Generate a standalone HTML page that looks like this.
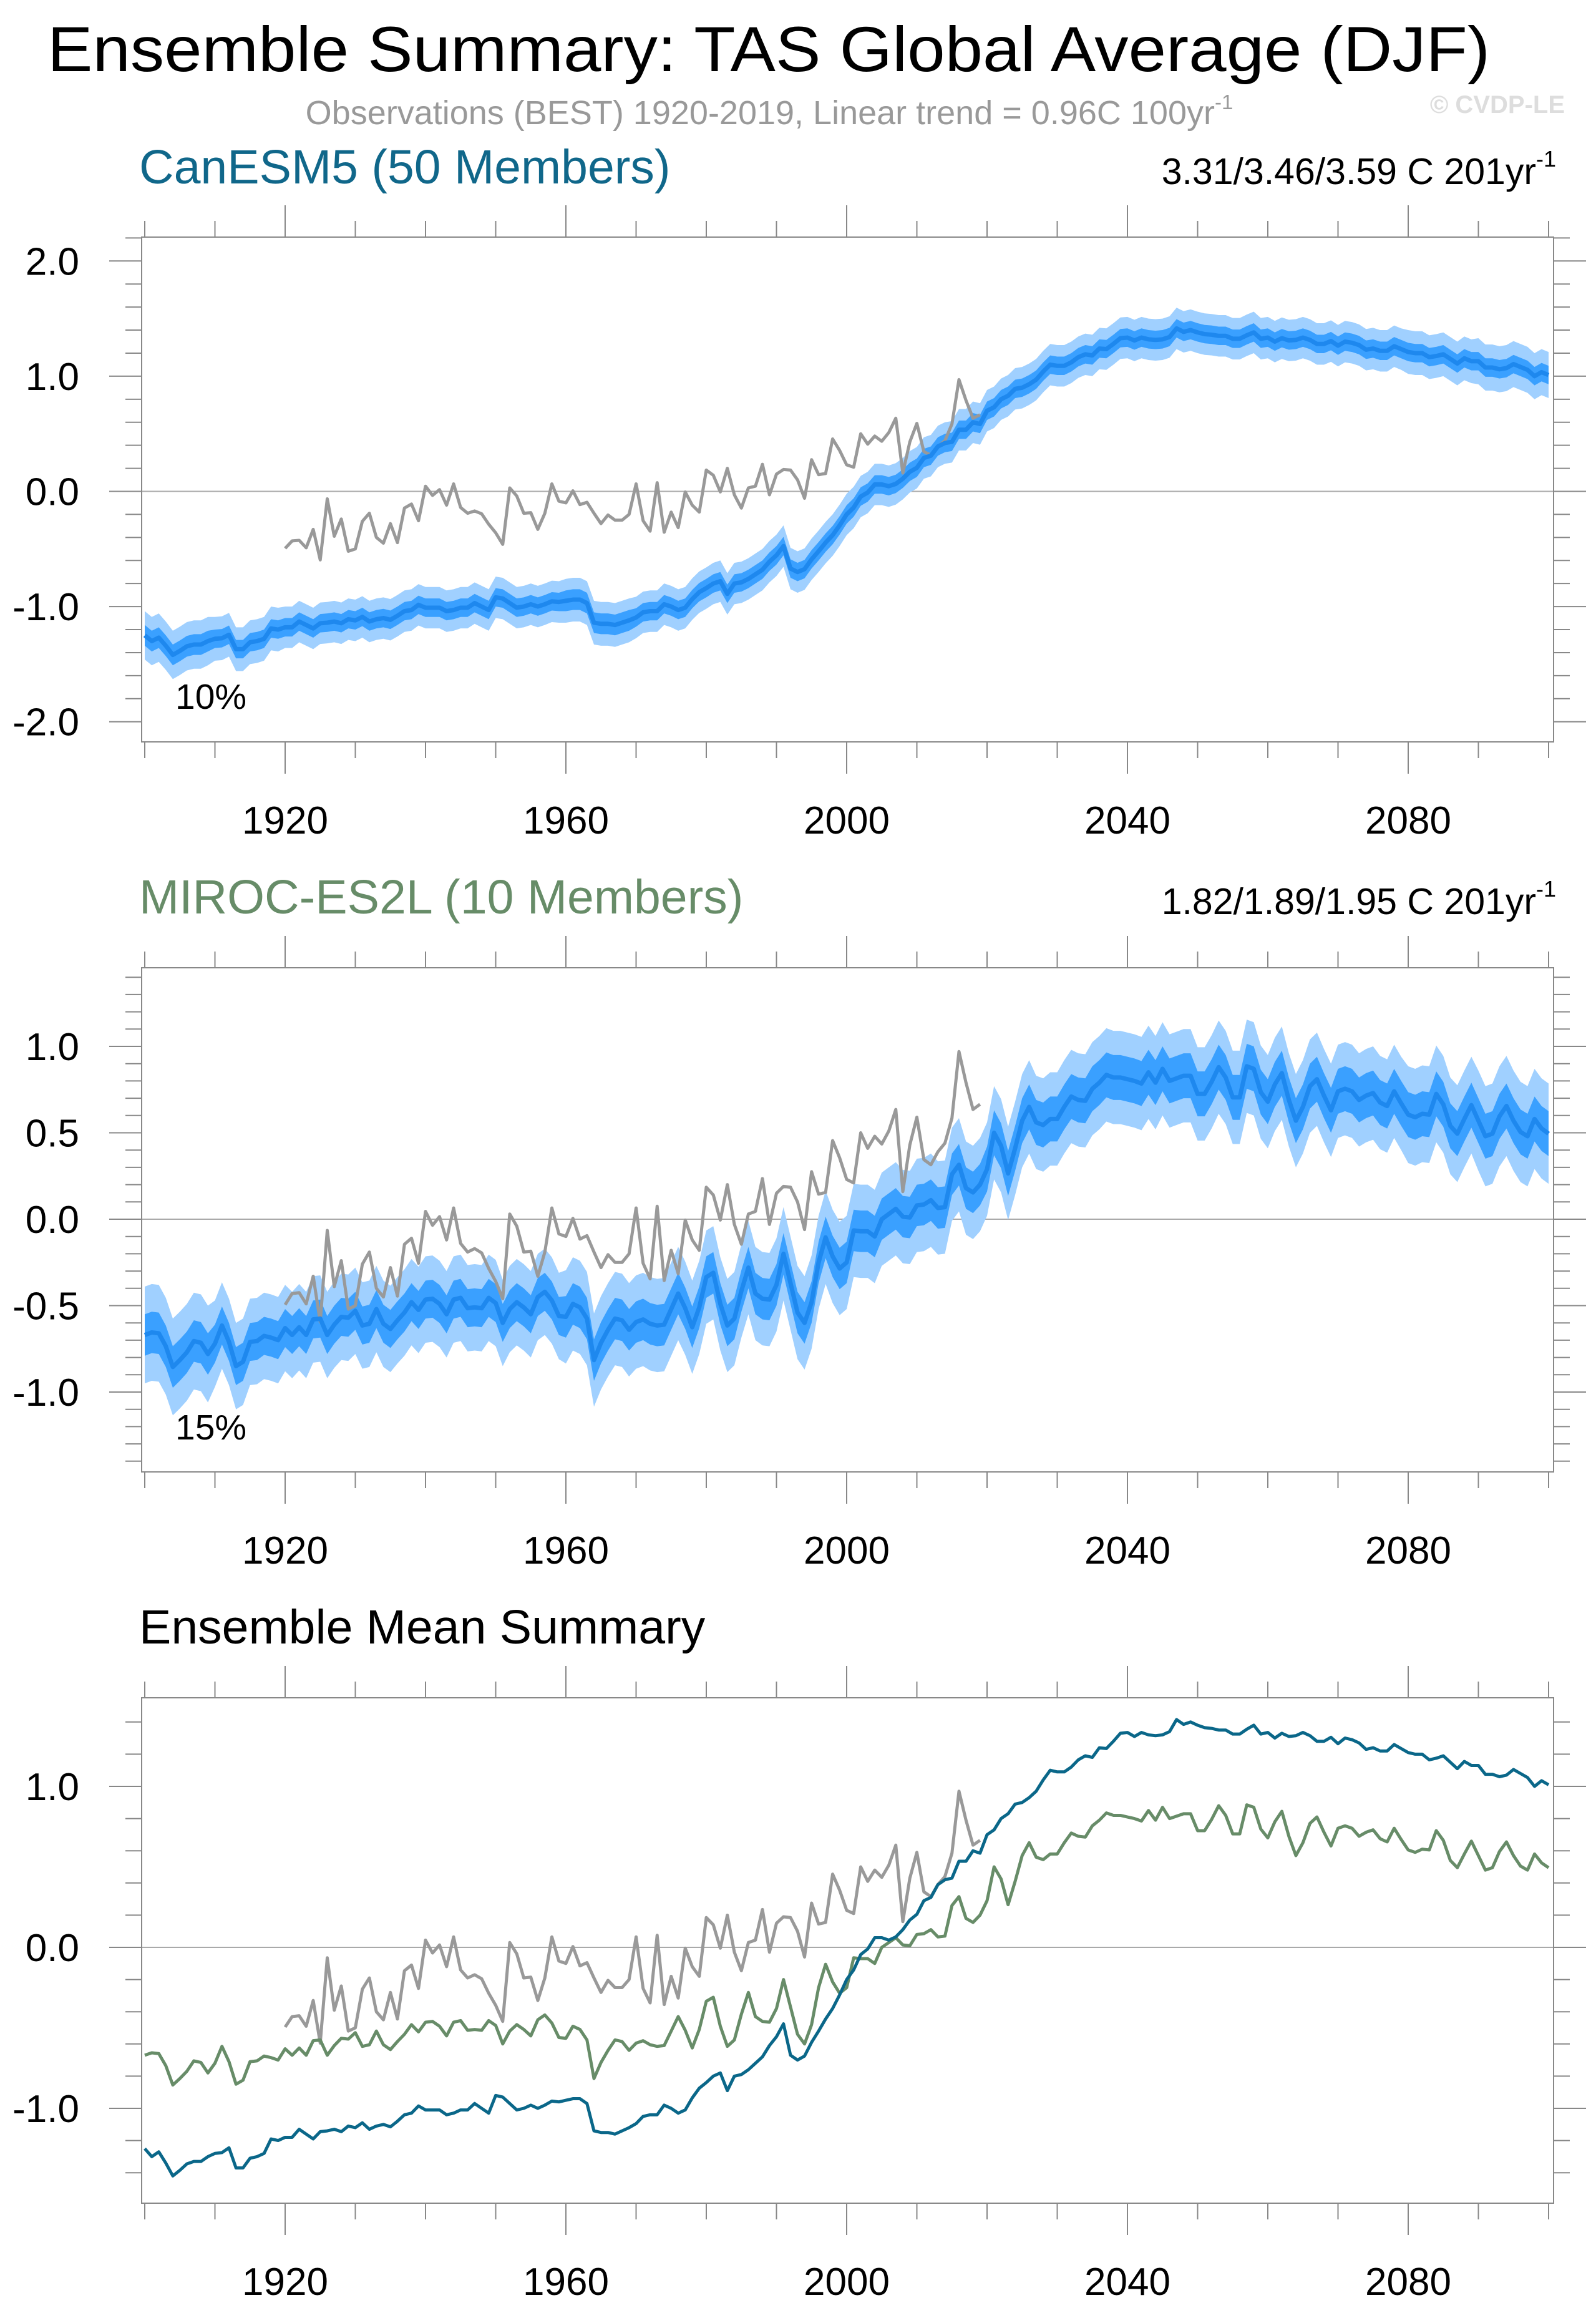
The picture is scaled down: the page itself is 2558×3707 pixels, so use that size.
<!DOCTYPE html>
<html><head><meta charset="utf-8"><style>
html,body{margin:0;padding:0;background:#fff;}
svg{display:block;font-family:"Liberation Sans",Arial,sans-serif;}
</style></head><body>
<svg id="chart" xmlns="http://www.w3.org/2000/svg" width="2558" height="3707" viewBox="0 0 2558 3707">
<rect width="2558" height="3707" fill="#fff"/>
<text x="76" y="114" font-size="102" textLength="2312" lengthAdjust="spacingAndGlyphs" fill="#000">Ensemble Summary: TAS Global Average (DJF)</text>
<text x="1233" y="199" font-size="54" fill="#999" text-anchor="middle">Observations (BEST) 1920-2019, Linear trend = 0.96C 100yr<tspan font-size="33" dy="-24">-1</tspan></text>
<text x="2508" y="181" font-size="40" font-weight="bold" fill="#ddd" text-anchor="end">© CVDP-LE</text>
<text x="223" y="294" font-size="77" fill="#10678a">CanESM5 (50 Members)</text>
<text x="2494" y="295" font-size="59" fill="#000" text-anchor="end">3.31/3.46/3.59 C 201yr<tspan font-size="36" dy="-28">-1</tspan></text>
<text x="223" y="1464" font-size="77" fill="#678c68">MIROC-ES2L (10 Members)</text>
<text x="2494" y="1465" font-size="59" fill="#000" text-anchor="end">1.82/1.89/1.95 C 201yr<tspan font-size="36" dy="-28">-1</tspan></text>
<text x="223" y="2634" font-size="77" fill="#000">Ensemble Mean Summary</text>
<text x="281" y="1136" font-size="57" fill="#000">10%</text>
<text x="281" y="2307" font-size="57" fill="#000">15%</text>
</svg>
<script>
const canMean = [-1.25,-1.30,-1.27,-1.34,-1.42,-1.385,-1.345,-1.33,-1.33,-1.30,
-1.28,-1.275,-1.245,-1.37,-1.37,-1.31,-1.30,-1.28,-1.19,-1.20,
-1.18,-1.18,-1.13,-1.16,-1.19,-1.145,-1.14,-1.13,-1.145,-1.11,
-1.12,-1.09,-1.13,-1.11,-1.10,-1.115,-1.08,-1.04,-1.03,-0.985,
-1.01,-1.01,-1.01,-1.04,-1.03,-1.01,-1.01,-0.97,-1.00,-1.03,
-0.92,-0.93,-0.97,-1.01,-1.00,-0.98,-1.00,-0.98,-0.955,-0.96,
-0.95,-0.94,-0.94,-0.97,-1.14,-1.15,-1.15,-1.16,-1.14,-1.12,
-1.095,-1.05,-1.04,-1.04,-0.98,-1.00,-1.03,-1.01,-0.935,-0.875,
-0.84,-0.80,-0.78,-0.89,-0.80,-0.79,-0.76,-0.72,-0.68,-0.61,
-0.555,-0.475,-0.67,-0.70,-0.675,-0.59,-0.52,-0.445,-0.38,-0.295,
-0.20,-0.14,-0.045,-0.01,0.06,0.06,0.045,0.065,0.11,0.17,
0.205,0.29,0.31,0.39,0.42,0.43,0.535,0.535,0.60,0.585,
0.70,0.73,0.80,0.83,0.89,0.90,0.93,0.97,1.04,1.10,
1.09,1.09,1.12,1.165,1.19,1.18,1.24,1.235,1.28,1.33,
1.335,1.31,1.335,1.32,1.315,1.32,1.34,1.415,1.385,1.40,
1.38,1.365,1.36,1.35,1.35,1.325,1.325,1.355,1.38,1.325,
1.335,1.30,1.33,1.31,1.315,1.335,1.315,1.28,1.28,1.305,
1.265,1.30,1.29,1.27,1.23,1.24,1.22,1.22,1.26,1.235,
1.21,1.20,1.20,1.165,1.175,1.19,1.15,1.11,1.155,1.13,
1.13,1.075,1.075,1.06,1.07,1.105,1.08,1.055,1.00,1.035,
1.01];
const mirMean = [-0.67,-0.655,-0.66,-0.735,-0.855,-0.815,-0.77,-0.705,-0.715,-0.78,
-0.72,-0.615,-0.71,-0.85,-0.825,-0.71,-0.705,-0.675,-0.685,-0.70,
-0.63,-0.67,-0.625,-0.67,-0.58,-0.575,-0.67,-0.61,-0.565,-0.57,
-0.53,-0.615,-0.605,-0.52,-0.605,-0.635,-0.585,-0.54,-0.48,-0.525,
-0.465,-0.46,-0.49,-0.55,-0.465,-0.455,-0.515,-0.51,-0.515,-0.455,
-0.485,-0.60,-0.52,-0.48,-0.51,-0.55,-0.45,-0.42,-0.47,-0.56,
-0.565,-0.49,-0.51,-0.575,-0.815,-0.715,-0.64,-0.575,-0.585,-0.64,
-0.595,-0.58,-0.605,-0.615,-0.61,-0.52,-0.43,-0.515,-0.625,-0.51,
-0.335,-0.31,-0.49,-0.615,-0.575,-0.415,-0.28,-0.43,-0.46,-0.465,
-0.38,-0.20,-0.37,-0.54,-0.60,-0.48,-0.25,-0.105,-0.215,-0.285,
-0.25,-0.065,-0.07,-0.07,-0.10,0.00,0.03,0.06,0.015,0.01,
0.08,0.085,0.11,0.065,0.07,0.26,0.315,0.18,0.155,0.20,
0.29,0.50,0.425,0.265,0.41,0.57,0.65,0.56,0.545,0.58,
0.58,0.65,0.71,0.69,0.685,0.755,0.79,0.835,0.82,0.82,
0.81,0.80,0.785,0.85,0.79,0.87,0.80,0.815,0.83,0.83,
0.725,0.725,0.795,0.88,0.82,0.705,0.705,0.885,0.87,0.735,
0.68,0.78,0.845,0.69,0.57,0.65,0.77,0.81,0.715,0.63,
0.74,0.755,0.74,0.69,0.715,0.73,0.675,0.655,0.74,0.67,
0.605,0.59,0.61,0.605,0.725,0.665,0.54,0.495,0.58,0.66,
0.57,0.48,0.495,0.595,0.655,0.57,0.505,0.48,0.58,0.525,
0.495];
const obs = [-0.495,-0.43,-0.425,-0.49,-0.33,-0.595,-0.065,-0.39,-0.24,-0.52,
-0.50,-0.26,-0.19,-0.40,-0.45,-0.28,-0.445,-0.145,-0.11,-0.255,
0.045,-0.035,0.015,-0.12,0.065,-0.14,-0.19,-0.17,-0.195,-0.285,
-0.36,-0.46,0.03,-0.04,-0.19,-0.185,-0.33,-0.19,0.065,-0.085,
-0.10,0.005,-0.115,-0.095,-0.19,-0.28,-0.205,-0.25,-0.25,-0.20,
0.065,-0.255,-0.345,0.075,-0.355,-0.18,-0.315,-0.005,-0.12,-0.18,
0.185,0.14,-0.005,0.20,-0.03,-0.145,0.03,0.045,0.235,-0.03,
0.15,0.19,0.185,0.10,-0.06,0.275,0.145,0.155,0.455,0.355,
0.23,0.21,0.50,0.41,0.48,0.435,0.51,0.635,0.16,0.43,
0.59,0.345,0.315,0.39,0.44,0.585,0.97,0.79,0.635,0.665];
const canInner = [0.09,0.08,0.08,0.08,0.08,0.08,0.09,0.08,0.08,0.08,0.08,0.08,0.08,0.08,0.08,0.08,0.08,0.08,0.08,0.08,0.08];
const canOuter = [0.21,0.19,0.18,0.18,0.18,0.18,0.19,0.18,0.18,0.18,0.18,0.18,0.18,0.18,0.18,0.18,0.18,0.18,0.19,0.20,0.20];
const mirInner = [0.12,0.11,0.11,0.11,0.11,0.11,0.12,0.12,0.12,0.12,0.12,0.12,0.13,0.13,0.13,0.13,0.13,0.13,0.13,0.13,0.13];
const mirOuter = [0.28,0.25,0.25,0.25,0.25,0.25,0.27,0.27,0.27,0.27,0.27,0.27,0.27,0.27,0.27,0.27,0.27,0.27,0.28,0.29,0.29];
const startYear = 1900, obsStart = 1920;
const xTickLabels = ["1920","1960","2000","2040","2080"];
const p1YLabels = ["2.0","1.0","0.0","-1.0","-2.0"];
const p2YLabels = ["1.0","0.5","0.0","-0.5","-1.0"];
const p3YLabels = ["1.0","0.0","-1.0"];

const svg = document.getElementById('chart');
const NS = 'http://www.w3.org/2000/svg';
function mk(tag, attrs, parent){const e=document.createElementNS(NS,tag);for(const k in attrs)e.setAttribute(k,attrs[k]);(parent||svg).appendChild(e);return e;}
const FL=227, FR=2490;
function xS(year){return 232 + (year-1900)*11.25;}

function drawPanel(p, name){
  const g = mk('g',{});
  
  
  const yS = v => p.zero - v*p.unit;
  for(let yr=1900; yr<=2100; yr+=10){
    const major = (yr-1920)%40===0 && yr>=1920 && yr<=2080;
    const L = major?51:26, x=xS(yr);
    mk('line',{x1:x,x2:x,y1:p.top,y2:p.top-L,stroke:'#888','stroke-width':2},g);
    mk('line',{x1:x,x2:x,y1:p.bot,y2:p.bot+L,stroke:'#888','stroke-width':2},g);
  }
  xTickLabels.forEach(lab=>{
    const t = mk('text',{x:xS(+lab),y:p.bot+147,'font-size':62,'text-anchor':'middle',fill:'#000'},g);
    t.textContent = lab;
    
    
  });
  const vmin=(p.zero-p.bot)/p.unit, vmax=(p.zero-p.top)/p.unit;
  for(let k=Math.ceil(vmin/p.minor-1e-6); k*p.minor<=vmax+1e-6; k++){
    const v=k*p.minor, y=yS(v);
    const major = Math.abs(v/p.major-Math.round(v/p.major))<1e-6;
    const L = major?52:26;
    mk('line',{x1:FL,x2:FL-L,y1:y,y2:y,stroke:'#888','stroke-width':2},g);
    mk('line',{x1:FR,x2:FR+L,y1:y,y2:y,stroke:'#888','stroke-width':2},g);
  }
  p.labels.forEach(lab=>{
    const t = mk('text',{x:127,y:yS(+lab)+22,'font-size':62,'text-anchor':'end',fill:'#000'},g);
    t.textContent = lab;
    
    
  });
  const zl = mk('line',{x1:FL,x2:FR,y1:yS(0),y2:yS(0),stroke:'#aaa','stroke-width':2},g);
  
  
  return {g, yS};
}
function bandPath(mean, spread, yS){
  let up=[], lo=[];
  mean.forEach((v,i)=>{const s=spread[Math.min(20,Math.floor(i/10))];up.push(xS(startYear+i)+','+yS(v+s));lo.push(xS(startYear+i)+','+yS(v-s));});
  return 'M'+up.join('L')+'L'+lo.reverse().join('L')+'Z';
}
function linePath(vals, y0, yS){
  return 'M'+vals.map((v,i)=>xS(y0+i)+','+yS(v)).join('L');
}
function frame(p,g){
  const r = mk('rect',{x:FL,y:p.top,width:FR-FL,height:p.bot-p.top,fill:'none',stroke:'#888','stroke-width':2},g);
  
  
}
function ensemblePanel(p, name, mean, inner, outer){
  const {g,yS} = drawPanel(p, name);
  const o = mk('path',{d:bandPath(mean,outer,yS),fill:'#a0d0ff'},g);
  
  
  const i = mk('path',{d:bandPath(mean,inner,yS),fill:'#3aa0ff'},g);
  
  
  const ob = mk('path',{d:linePath(obs,obsStart,yS),fill:'none',stroke:'#999','stroke-width':5,'stroke-linejoin':'round'},g);
  
  
  const m = mk('path',{d:linePath(mean,startYear,yS),fill:'none',stroke:'#1e88ee','stroke-width':7,'stroke-linejoin':'round'},g);
  
  
  frame(p,g);
}
const P1={top:380,bot:1189,zero:787.5,unit:184.6,minor:0.2,major:1.0,labels:p1YLabels};
const P2={top:1551,bot:2359,zero:1954,unit:277,minor:0.1,major:0.5,labels:p2YLabels};
const P3={top:2721,bot:3531,zero:3121,unit:258,minor:0.2,major:1.0,labels:p3YLabels};
ensemblePanel(P1,'canesm5',canMean,canInner,canOuter);
ensemblePanel(P2,'miroc',mirMean,mirInner,mirOuter);
(function(){
  const {g,yS} = drawPanel(P3,'ensemble-mean');
  const ob = mk('path',{d:linePath(obs,obsStart,yS),fill:'none',stroke:'#999','stroke-width':5,'stroke-linejoin':'round'},g);
  
  
  const gm = mk('path',{d:linePath(mirMean,startYear,yS),fill:'none',stroke:'#678c68','stroke-width':5,'stroke-linejoin':'round'},g);
  
  
  const cm = mk('path',{d:linePath(canMean,startYear,yS),fill:'none',stroke:'#0a6789','stroke-width':5,'stroke-linejoin':'round'},g);
  
  
  frame(P3,g);
})();
</script>
</body></html>
